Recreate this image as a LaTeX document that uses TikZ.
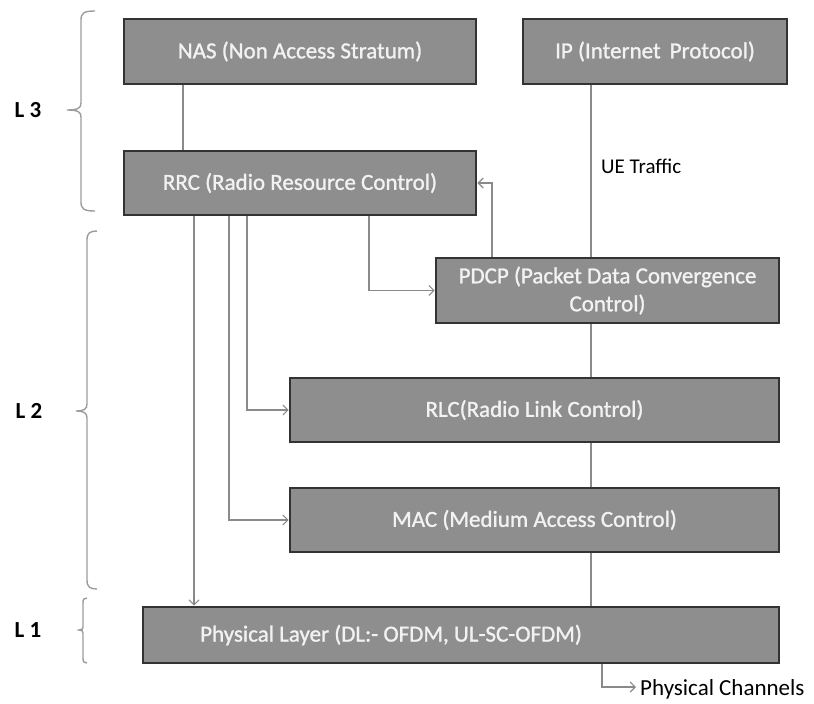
\documentclass[tikz,border=0pt]{standalone}
\usepackage{fontspec}
\setmainfont{Carlito}
\newfontfamily\layerfont{Carlito}[FakeBold=1.2]
\usetikzlibrary{arrows.meta}
\definecolor{boxfill}{HTML}{8E8E8E}
\definecolor{boxedge}{HTML}{333333}
\definecolor{boxtext}{HTML}{F2F2F2}
\definecolor{wire}{HTML}{8A8A8A}
\definecolor{bracecol}{HTML}{9C9C9C}

\begin{document}
\begin{tikzpicture}[x=1pt,y=-1pt,
  layer/.style={draw=boxedge, fill=boxfill, line width=2.6pt, text=boxtext,
    font=\layerfont\fontsize{23}{28}\selectfont, inner sep=0pt, align=center},
  layertext/.style={text=boxtext, font=\layerfont\fontsize{23}{28}\selectfont, inner sep=0pt, anchor=west},
  link/.style={draw=wire, line width=1.4pt},
  feed/.style={link, -{Straight Barb[length=5pt,width=10pt,line width=1.2pt]}},
  bracket/.style={draw=bracecol, line width=1.4pt},
  tag/.style={font=\fontsize{23}{27}\selectfont\bfseries, inner sep=0pt},
  note/.style={font=\fontsize{21}{25}\selectfont, inner sep=0pt, anchor=west}]

\useasboundingbox (0,0) rectangle (814,704);

% protocol layers
\node[layer, minimum width=352pt, minimum height=65pt] (NAS)  at (300,51.5)  {NAS (Non Access Stratum)};
\node[layer, minimum width=264pt, minimum height=65pt] (IP)   at (655,51.5)  {IP (Internet\ \,Protocol)};
\node[layer, minimum width=352pt, minimum height=64pt] (RRC)  at (300,183)   {RRC (Radio Resource Control)};
\node[layer, minimum width=343pt, minimum height=65pt] (PDCP) at (607.5,290.5) {PDCP (Packet Data Convergence\\Control)};
\node[layer, minimum width=489pt, minimum height=64pt] (RLC)  at (534.5,410) {RLC(Radio Link Control)};
\node[layer, minimum width=489pt, minimum height=64pt] (MAC)  at (534.5,520) {MAC (Medium Access Control)};
\node[layer, minimum width=636pt, minimum height=56pt] (PHY)  at (461,635)   {};
\node[layertext] (PHYname) at (200,635) {Physical Layer (DL:- OFDM, UL-SC-OFDM)};

% free labels
\node[note] (traffic) at (601,166) {UE Traffic};
\node[note, font=\fontsize{23}{27}\selectfont] (chan) at (640,689) {Physical Channels};
\node[tag] (L3) at (28,110) {L 3};
\node[tag] (L2) at (29,411) {L 2};
\node[tag] (L1) at (28,630) {L 1};

% tap positions of the vertical wires
\coordinate (xnas) at (183,0);
\coordinate (xphy) at (194,0);
\coordinate (xmac) at (229,0);
\coordinate (xrlc) at (247,0);
\coordinate (xpdcp) at (369,0);
\coordinate (xback) at (492,0);
\coordinate (xdata) at (591,0);
\coordinate (xout) at (602,0);
\coordinate (chantip) at (636,687);

% control plane
\draw[link] (xnas |- NAS.south) -- (xnas |- RRC.north);
\draw[feed] (xphy |- RRC.south) -- (xphy |- PHY.north);
\draw[feed] (xmac |- RRC.south) |- (MAC.west);
\draw[feed] (xrlc |- RRC.south) |- (RLC.west);
\draw[feed] (xpdcp |- RRC.south) |- (PDCP.west);
\draw[feed] (xback |- PDCP.north) |- (RRC.east);

% user plane
\draw[link] (xdata |- IP.south) -- (xdata |- PDCP.north);
\draw[link] (xdata |- PDCP.south) -- (xdata |- RLC.north);
\draw[link] (xdata |- RLC.south) -- (xdata |- MAC.north);
\draw[link] (xdata |- MAC.south) -- (xdata |- PHY.north);
\draw[feed] (xout |- PHY.south) |- (chantip);

% layer brackets
\draw[bracket] (95,11) .. controls (84,11) and (81,13) .. (81,20) -- (81,103)
  .. controls (81,108) and (78,110) .. (67,110)
  .. controls (78,110) and (81,112) .. (81,117) -- (81,202)
  .. controls (81,209) and (84,211) .. (95,211);
\draw[bracket] (97,231) .. controls (90,231) and (87,233) .. (87,240) -- (87,404)
  .. controls (87,409) and (84,411) .. (76,411)
  .. controls (84,411) and (87,413) .. (87,418) -- (87,580)
  .. controls (87,587) and (90,589) .. (97,589);
\draw[bracket] (87,598) .. controls (84,598) and (83,599) .. (83,603) -- (83,627)
  .. controls (83,629) and (82,630) .. (79,630)
  .. controls (82,630) and (83,631) .. (83,633) -- (83,658)
  .. controls (83,662) and (84,663) .. (87,663);
\end{tikzpicture}
\end{document}
